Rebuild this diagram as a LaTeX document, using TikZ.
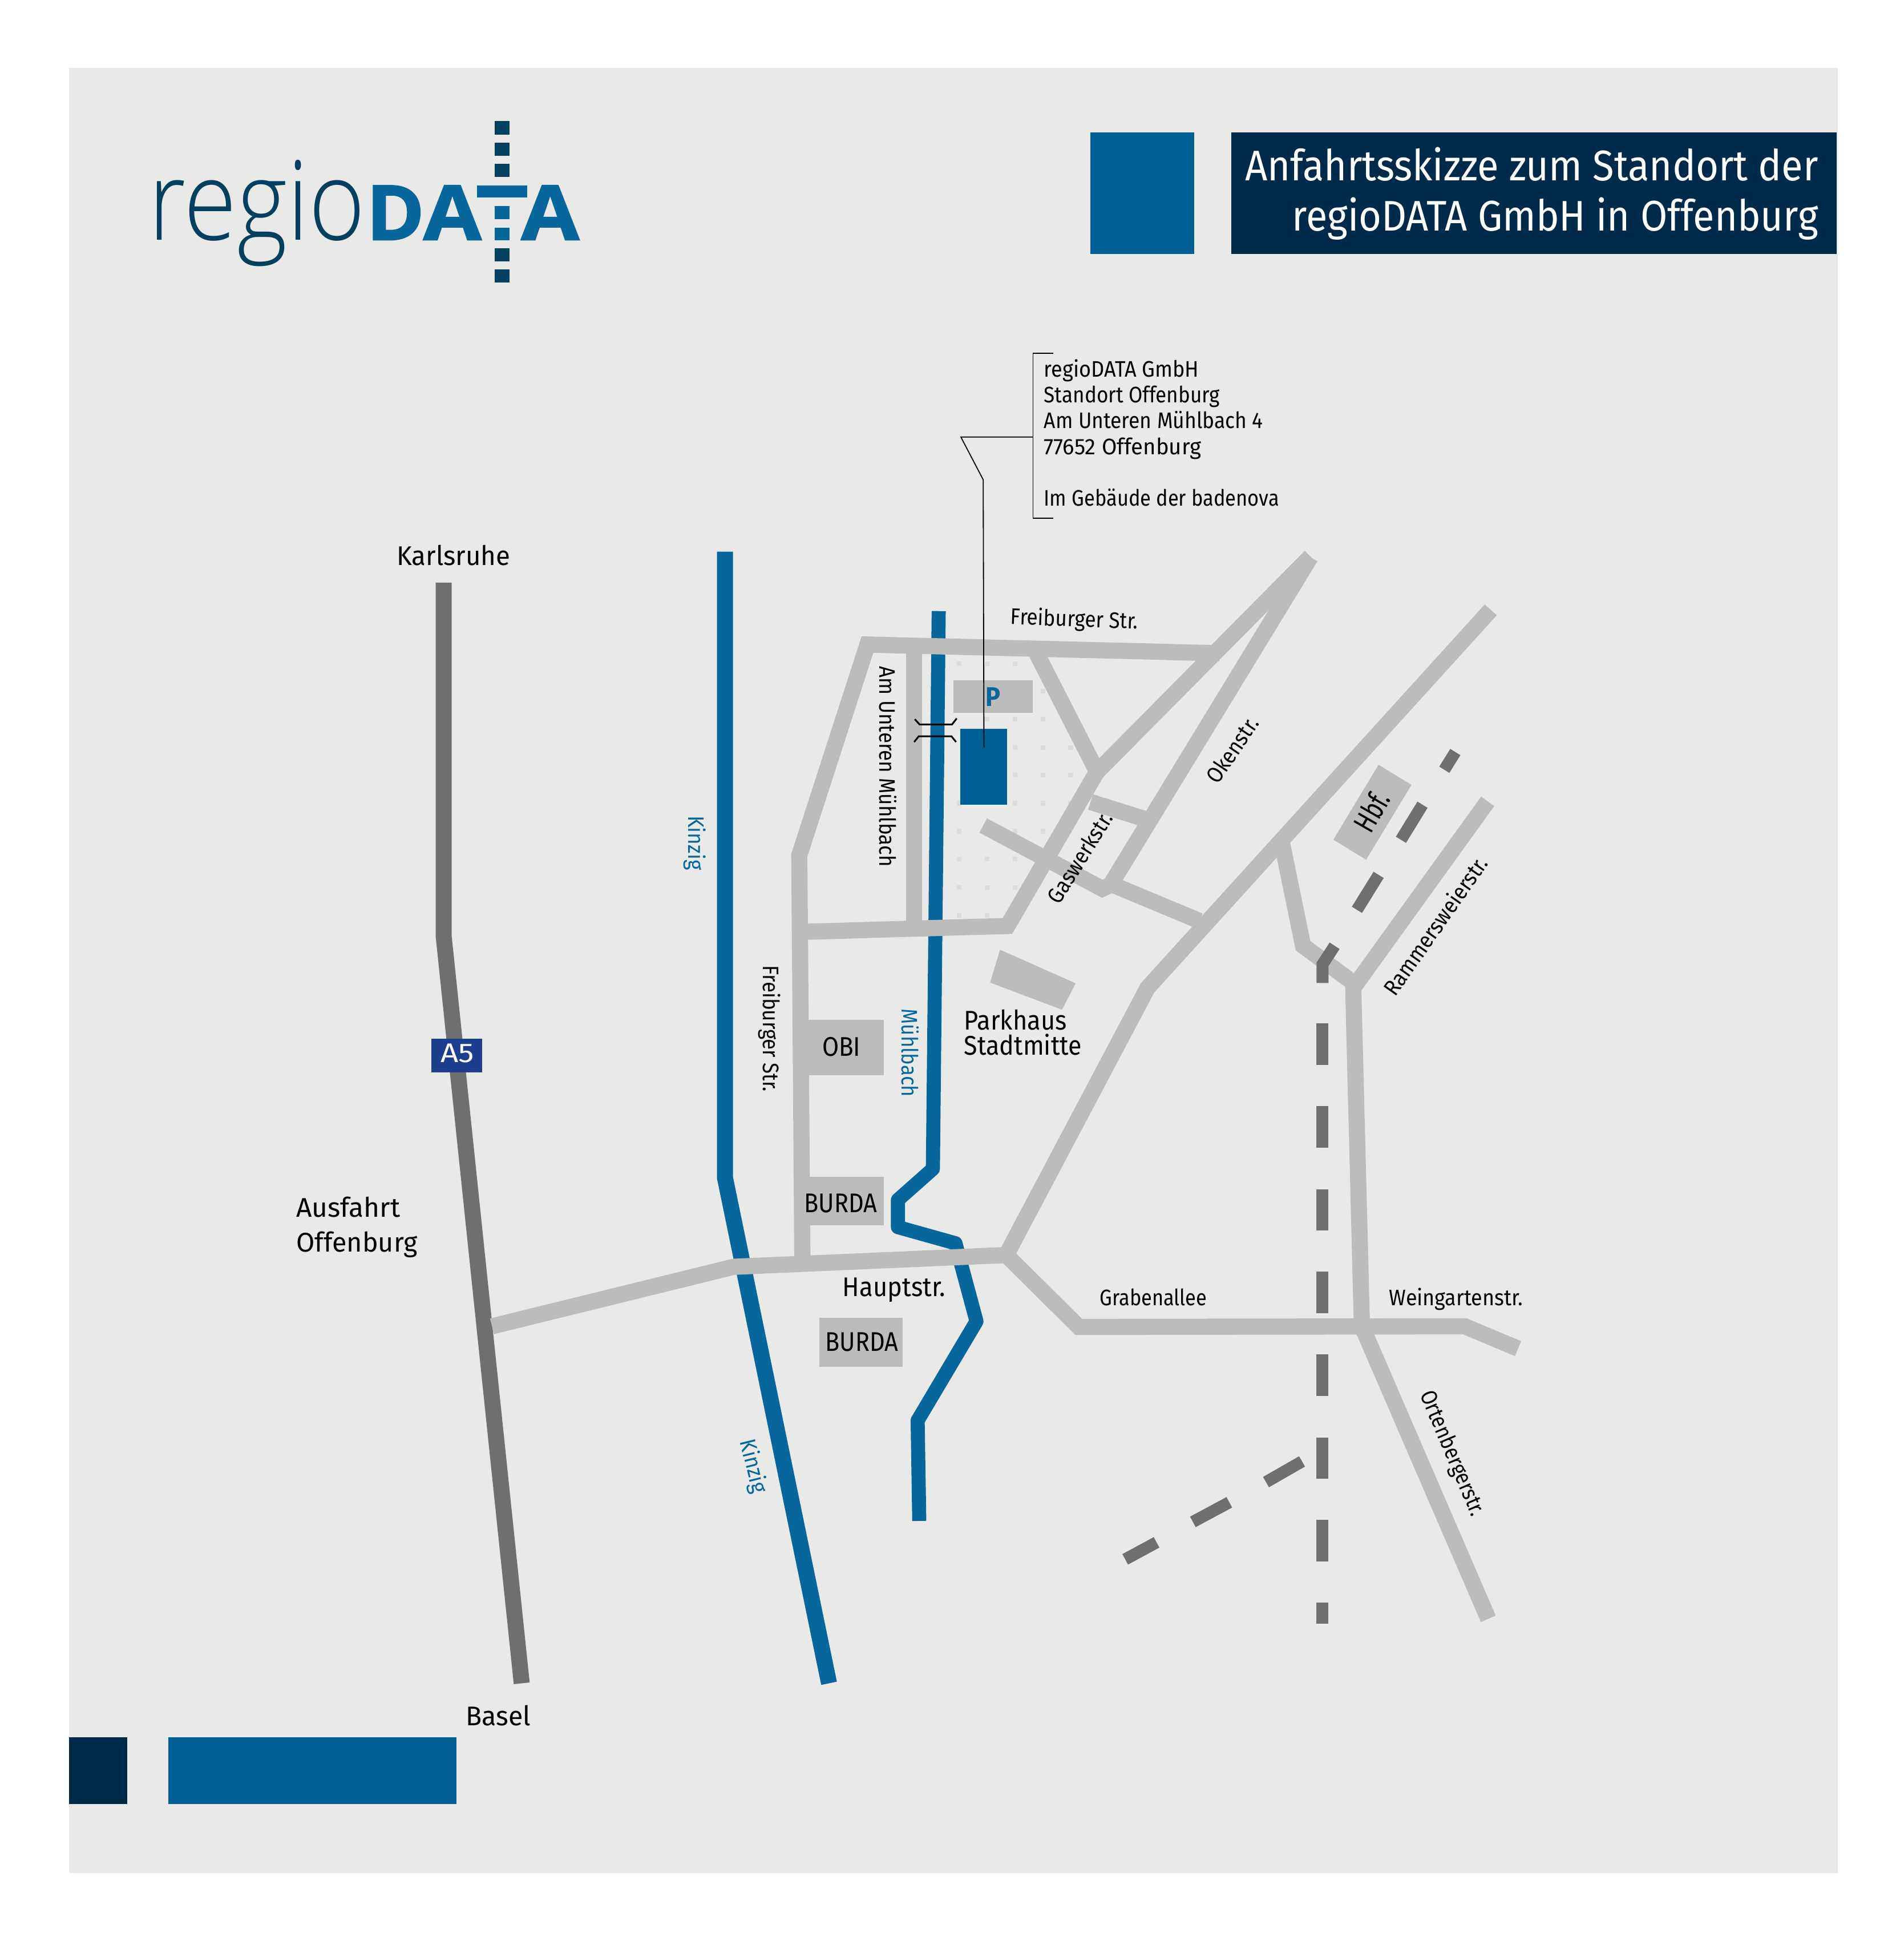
\documentclass[tikz,border=0pt]{standalone}
\usepackage{fontspec}
\usepackage{graphicx}
\setmainfont{Fira Sans}
\newfontfamily\logolight{Open Sans}[UprightFont=* Light]
\newfontfamily\logobold{Open Sans}[UprightFont=* Bold,UprightFeatures={FakeBold=1.6}]
\newlength{\du}\setlength{\du}{0.6508pt}
\newcommand{\fw}[2]{\resizebox{#1\du}{\height}{#2}}
\definecolor{bgc}{HTML}{E9E9E8}
\definecolor{roadc}{HTML}{BCBCBB}
\definecolor{hwyc}{HTML}{706F6F}
\definecolor{riverc}{HTML}{07669B}
\definecolor{blockb}{HTML}{006096}
\definecolor{navy}{HTML}{002A4A}
\definecolor{dotc}{HTML}{DCDCDB}
\definecolor{aset}{HTML}{1D3D8F}
\definecolor{logod}{HTML}{033F5F}
\tikzset{
 road/.style={draw=roadc,line width=8.5pt,line join=miter},
 river/.style={draw=riverc,line width=7.4pt,line join=round},
 hwy/.style={draw=hwyc,line width=8.4pt,line join=miter},
 rail/.style={draw=hwyc,line width=6.26pt},
 thin line/.style={draw=black,line width=0.55pt},
 sm/.style={inner sep=0pt,outer sep=0pt,anchor=base west,font=\fontsize{11.8}{13}\selectfont},
 lg/.style={inner sep=0pt,outer sep=0pt,anchor=base west,font=\fontsize{14.2}{16}\selectfont},
 ttl/.style={inner sep=0pt,outer sep=0pt,anchor=base west,text=white,font=\fontsize{22.5}{26}\selectfont},
 lgl/.style={inner sep=0pt,outer sep=0pt,anchor=base west,text=logod,font=\logolight\fontsize{58}{64}\selectfont},
 lgb/.style={inner sep=0pt,outer sep=0pt,anchor=base west,text=riverc,font=\logobold\fontsize{40}{48}\selectfont},
}
\begin{document}
\begin{tikzpicture}[x=0.6508pt,y=-0.6508pt]
\useasboundingbox (0,0) rectangle (1538.3,1567.8);
\fill[bgc] (56,55) rectangle (1485,1513);
% header blocks
\fill[blockb] (881,107) rectangle (965,205);
\fill[navy] (995,107) rectangle (1484,205);
\node[ttl] (t1) at (1006,146) {\fw{463}{Anfahrtsskizze zum Standort der}};
\node[ttl] (t2) at (1044,186.5) {\fw{425}{regioDATA GmbH in Offenburg}};
% footer blocks
\fill[navy] (56,1403) rectangle (103,1457);
\fill[blockb] (136,1403) rectangle (369,1457);
% logo
\node[lgl] (lr) at (120,193.8) {\fw{175}{regio}};
\node[lgb] (ld) at (296,193.8) {\fw{47}{D}};
\node[lgb] (la1) at (342,193.8) {\fw{47}{A}};
\node[lgb] (la2) at (421,193.8) {\fw{47}{A}};
\fill[riverc] (385.3,149.6) rectangle (425.8,159.7);
\foreach \a/\b in {97.9/108.6,115.1/125.7,132.1/142.7,200.7/211.3,217.7/228.2}
  \fill[logod] (399.6,\a) rectangle (411.5,\b);
\foreach \a/\b in {166.6/176.8,183.7/194.1}
  \fill[riverc] (399.6,\a) rectangle (411.5,\b);
\begin{scope}[x=0.65158pt,y=-0.65158pt]
% dots
\foreach \x/\y in {773.9/535.6,796.6/535.6,819/535.6,841.5/557.6,796.6/580.2,819/580.2,841.5/580.2,
  819/603,841.5/603,864/603,819/625.4,841.5/625.4,864/625.4,773.9/648,819/648,841.5/648,864/648,
  773.9/670.6,819/670.6,841.5/670.6,773.9/693,796.6/693,819/693,773.9/715.8,796.6/715.8,819/715.8,
  773.9/738.4,796.6/738.4}
  \fill[dotc] (\x-1.9,\y-1.9) rectangle (\x+1.9,\y+1.9);
% rivers
\draw[river,line width=8.4pt,line join=miter] (585,445) -- (585,950) -- (669,1358);
\draw[river] (757.5,493) -- (752.8,943) -- (724.6,968) -- (724.6,990) -- (771,1003) -- (788,1066) -- (740.5,1146) -- (741.8,1227);
% highway
\draw[hwy] (358,470) -- (358,755) -- (421,1358);
% roads
\draw[road] (397,1070) -- (592,1022) -- (812,1012.5) -- (870.5,1070.5) -- (1182,1070) -- (1225,1088);
\draw[road] (984,527) -- (700,520) -- (645,690) -- (647.5,1018);
\draw[road] (737.5,520) -- (737.5,750);
\draw[road] (1057.5,449) -- (885,623) -- (813,747) -- (640,752);
\draw[road] (1057.5,449.5) -- (896,714);
\draw[road] (793.4,666) -- (889.5,717) -- (896,714);
\draw[road] (896,713) -- (968,743);
\draw[road] (836.5,527) -- (885,622);
\draw[road] (880,647) -- (928,662);
\draw[road] (1203,492) -- (926,797) -- (812,1012.5);
\draw[road] (1034.5,680) -- (1051.5,763) -- (1095,795);
\draw[road] (1200.5,646.5) -- (1092,797) -- (1099,1070) -- (1201,1306);
% buildings
\fill[roadc] (651,822.7) rectangle (713,867.5);
\fill[roadc] (652.5,949.3) rectangle (713,988.5);
\fill[roadc] (661.4,1063) rectangle (728.5,1102.5);
\fill[roadc] (807,766.2) -- (868,793.3) -- (857,814.6) -- (799,792.7) -- cycle;
\fill[roadc] (1112.4,617) -- (1139,633.2) -- (1102.4,693.6) -- (1076,677.4) -- cycle;
\fill[roadc] (769.6,548.6) rectangle (833.6,575.2);
\fill[blockb] (774.7,588) rectangle (812.8,649);
% railway
\draw[rail,line join=miter] (1067.2,793) -- (1067.2,778) -- (1077,763);
\draw[rail] (1095,734) -- (1112.5,705.8);
\draw[rail] (1130.5,677.5) -- (1147.9,649.2);
\draw[rail] (1165.5,621) -- (1174.4,606.7);
\foreach \a/\b in {825.7/859.3,892.5/926,959.3/992.8,1026/1059.6,1092.8/1126.4,1159.6/1193,1226/1259.6,1293/1309.7}
  \draw[rail] (1067.2,\a) -- (1067.2,\b);
\draw[rail] (908,1258) -- (933.3,1244.3);
\draw[rail] (962.6,1227.8) -- (992,1212);
\draw[rail] (1021.6,1195.7) -- (1050.7,1179);
% bridge
\draw[thin line,line width=0.9pt] (738.2,580.2) -- (742,584.4) -- (768.3,584.4) -- (772,579.6);
\draw[thin line,line width=0.9pt] (737.7,598.6) -- (741.4,594) -- (767.8,594) -- (771.5,598.6);
% callout
\draw[thin line] (850,285) -- (833.6,285) -- (833.6,418) -- (850,418);
\draw[thin line] (833.6,352.6) -- (775.4,352.6) -- (793.4,387) -- (794,603);
% A5
\fill[aset] (348,838) rectangle (389,865);
\node[lg,text=white] (a5) at (355.5,857) {\fw{27}{A5}};
% address
\node[sm] (ad1) at (842.5,304) {\fw{125}{regioDATA GmbH}};
\node[sm] (ad2) at (842.5,325) {\fw{142}{Standort Offenburg}};
\node[sm] (ad3) at (842.5,345.5) {\fw{177}{Am Unteren Mühlbach 4}};
\node[sm] (ad4) at (842.5,366.5) {\fw{127}{77652 Offenburg}};
\node[sm] (ad5) at (842.5,408) {\fw{190}{Im Gebäude der badenova}};
% labels
\node[lg] (l1) at (320,456) {\fw{92}{Karlsruhe}};
\node[lg] (l2) at (376,1392) {\fw{52.5}{Basel}};
\node[lg] (l3) at (239,982) {\fw{84}{Ausfahrt}};
\node[lg] (l4) at (239,1010) {\fw{98}{Offenburg}};
\node[lg] (l5) at (778,831) {\fw{83}{Parkhaus}};
\node[lg] (l6) at (778,851) {\fw{95}{Stadtmitte}};
\node[lg] (l7) at (680,1046) {\fw{83}{Hauptstr.}};
\node[lg] (l8) at (663.5,852) {\fw{31}{OBI}};
\node[lg] (l9) at (649,978) {\fw{59}{BURDA}};
\node[lg] (l10) at (666,1090) {\fw{59}{BURDA}};
\node[sm] (l11) at (887.5,1053) {\fw{86.5}{Grabenallee}};
\node[sm] (l12) at (1121,1053) {\fw{108}{Weingartenstr.}};
\node[sm,rotate=-2] (l13) at (815.4,503.7) {\fw{103}{Freiburger Str.}};
\node[sm,rotate=-90] (l14) at (709.7,537.6) {\fw{162}{Am Unteren Mühlbach}};
\node[sm,rotate=-90] (l15) at (616,779) {\fw{102}{Freiburger Str.}};
\node[sm,rotate=-90,text=riverc] (l16) at (727.9,814) {\fw{71}{Mühlbach}};
\node[sm,rotate=-90,text=riverc] (l17) at (555.5,658) {\fw{44}{Kinzig}};
\node[sm,rotate=-76,text=riverc] (l18) at (597,1163) {\fw{44}{Kinzig}};
\node[sm,rotate=58] (l19) at (855,730.4) {\fw{83}{Gaswerkstr.}};
\node[sm,rotate=56] (l20) at (983,633.5) {\fw{60}{Okenstr.}};
\node[sm,rotate=55] (l21) at (1126,804.7) {\fw{132}{Rammersweierstr.}};
\node[lg,rotate=60,font=\fontsize{16}{18}\selectfont] (l22) at (1106.3,673.2) {\fw{33}{Hbf.}};
\node[sm,rotate=-67] (l23) at (1145.8,1124.9) {\fw{108}{Ortenbergerstr.}};
\node[lg,text=riverc] (pp) at (795.5,570) {\fw{12}{\textbf{P}}};
\end{scope}
\end{tikzpicture}
\end{document}
